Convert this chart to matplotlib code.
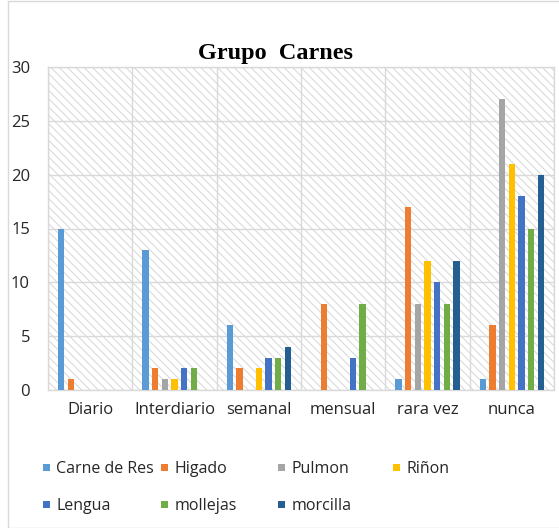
import matplotlib
matplotlib.use("Agg")
import matplotlib.pyplot as plt
from matplotlib.patches import Rectangle, Patch
import numpy as np

categories = ["Diario", "Interdiario", "semanal", "mensual", "rara vez", "nunca"]
series_names = ["Carne de Res", "Higado", "Pulmon", "Riñon", "Lengua", "mollejas", "morcilla"]
carne_de_res = [15, 13, 6, 0, 1, 1]
higado = [1, 2, 2, 8, 17, 6]
pulmon = [0, 1, 0, 0, 8, 27]
rinon = [0, 1, 2, 0, 12, 21]
lengua = [0, 2, 3, 3, 10, 18]
mollejas = [0, 2, 3, 8, 8, 15]
morcilla = [0, 0, 4, 0, 12, 20]
y_ticks = [0, 5, 10, 15, 20, 25, 30]

series_values = [carne_de_res, higado, pulmon, rinon, lengua, mollejas, morcilla]
colors = ["#5B9BD5", "#ED7D31", "#A5A5A5", "#FFC000", "#4472C4", "#70AD47", "#255E91"]

plt.rcParams['font.family'] = ['Open Sans', 'DejaVu Sans']
plt.rcParams['hatch.linewidth'] = 0.7

W, H = 559, 528
fig = plt.figure(figsize=(W / 100, H / 100), dpi=100)
fig.patch.set_facecolor("white")

# outer chart frame
fig.add_artist(Rectangle((7.5 / W, 0), (W + 10) / W, 1 - 11.5 / H - 0 + 0.02,
                         transform=fig.transFigure, fill=False,
                         edgecolor="#D9D9D9", linewidth=1.0, clip_on=False))

left, right, top, bottom = 48, 554, 67, 390
ax = fig.add_axes([left / W, 1 - bottom / H, (right - left) / W, (bottom - top) / H])

# hatched background
bg = Rectangle((0, 0), 1, 1, transform=ax.transAxes, facecolor="white",
               edgecolor="#D6D6D6", linewidth=0, hatch="\\\\\\\\", zorder=0)
ax.add_patch(bg)

n = len(series_names)
step = 0.8 / n
bw = 0.075
x = np.arange(len(categories))
handles = []
for j, (name, vals, c) in enumerate(zip(series_names, series_values, colors)):
    b = ax.bar(x + (j - (n - 1) / 2) * step, vals, width=bw, color=c, zorder=3, label=name)
    handles.append(b)

ax.set_xlim(-0.5, len(categories) - 0.5)
ax.set_ylim(0, 30)
ax.set_yticks(y_ticks)
ax.set_xticks(x)
ax.set_xticklabels(categories)
ax.set_xticks(np.arange(len(categories) + 1) - 0.5, minor=True)
ax.tick_params(axis="both", which="both", length=0)
ax.tick_params(axis="y", pad=13, labelsize=12, labelcolor="#262626")
ax.tick_params(axis="x", pad=9, labelsize=12, labelcolor="#262626")
ax.grid(axis="y", which="major", color="#D9D9D9", linewidth=1.0, zorder=1)
ax.grid(axis="x", which="minor", color="#D9D9D9", linewidth=1.0, zorder=1)
ax.set_axisbelow(True)
for s in ax.spines.values():
    s.set_color("#D9D9D9")
    s.set_linewidth(1.0)

fig.text(276 / W, 1 - 53 / H, "Grupo  Carnes", ha="center", va="center",
         fontsize=17.5, fontweight="bold", family=["Liberation Serif", "DejaVu Serif"],
         color="black")

# legend laid out like the original (row-major, fixed columns)
col_x = [43, 161, 278, 393]
row_y = [469, 506]
fs = 11.5
for k, (name, c) in enumerate(zip(series_names, colors)):
    r, cidx = divmod(k, 4)
    fig.legend(handles=[Patch(facecolor=c, edgecolor="none")], labels=[name],
               loc="center left", bbox_to_anchor=(col_x[cidx] / W, 1 - row_y[r] / H),
               frameon=False, fontsize=fs, handlelength=0.44, handleheight=0.3,
               handletextpad=0.4, borderpad=0, borderaxespad=0,
               labelcolor="#262626")

fig.savefig("out.png", dpi=100, facecolor="white")
